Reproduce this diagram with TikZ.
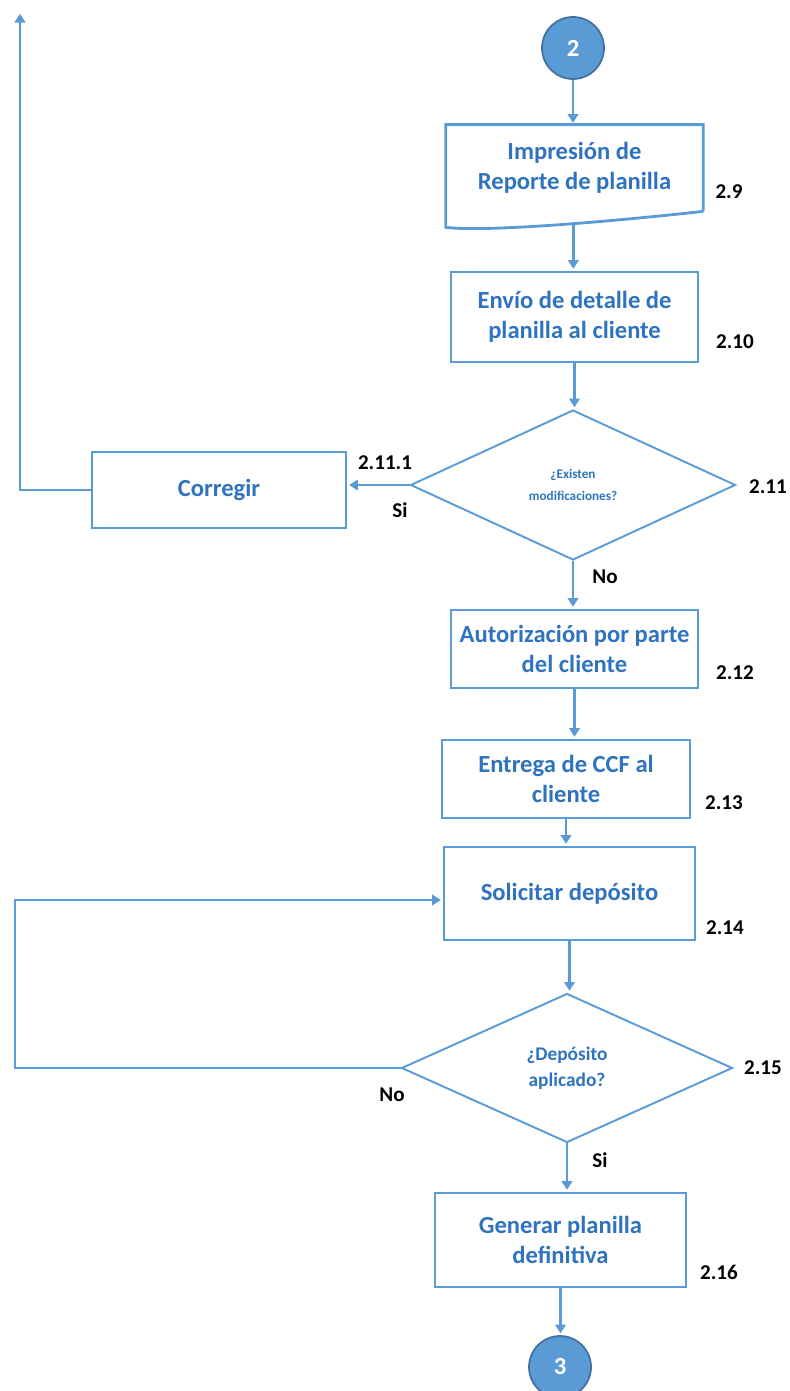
\documentclass[tikz,border=0pt]{standalone}
\usepackage{fontspec}
\setmainfont{Carlito}
\usetikzlibrary{positioning,arrows.meta,shapes.geometric}
\definecolor{cline}{HTML}{5B9BD5}
\definecolor{cedge}{HTML}{41719C}
\definecolor{ctext}{HTML}{2F73C0}

\begin{document}
\begin{tikzpicture}[x=0.02cm,y=-0.02cm,font=\bfseries\fontsize{14}{17}\selectfont,>={Triangle[length=5pt,width=6pt]},
  proc/.style={draw=cline,line width=1.6pt,text=ctext,align=center,inner sep=2pt},
  dec/.style={diamond,draw=cline,line width=1.1pt,text=ctext,align=center,inner sep=0pt},
  term/.style={circle,fill=cline,draw=cedge,line width=1pt,text=white,minimum size=1.24cm,inner sep=0pt},
  conn/.style={->,draw=cline,line width=1.6pt,shorten >=1pt},
  num/.style={text=black,font=\bfseries\fontsize{12}{14}\selectfont,inner sep=0pt}]
\useasboundingbox (0,0) rectangle (789,1391);
% connectors' start/end
\node[term] (c2) at (573,48) {2};
\node[text=ctext,align=center,minimum width=5.14cm,minimum height=1.72cm,inner sep=0pt] (b29) at (574.5,168)
  {Impresión de\\Reporte de planilla};
\draw[cline,line width=1.6pt] (b29.south east) -- (b29.north east) -- (b29.north west)
  -- ([yshift=-0.32cm]b29.south west) .. controls +(40,5) and +(-90,10) .. (b29.south east)
  coordinate[pos=.56] (b29w);
\node[proc,minimum width=4.94cm,minimum height=1.8cm] (b210) at (574.5,317) {Envío de detalle de\\planilla al cliente};
\node[dec,minimum width=6.5cm,minimum height=3cm,font=\bfseries\fontsize{7.5}{13}\selectfont] (d211) at (573,485)
  {¿Existen\\modificaciones?};
\node[proc,minimum width=5.08cm,minimum height=1.52cm] (corr) at (219,490) {Corregir};
\node[proc,minimum width=4.94cm,minimum height=1.56cm] (b212) at (574.5,649) {Autorización por parte\\del cliente};
\node[proc,minimum width=4.96cm,minimum height=1.56cm] (b213) at (566,779) {Entrega de CCF al\\cliente};
\node[proc,minimum width=5.02cm,minimum height=1.86cm] (b214) at (569.5,893.5) {Solicitar depósito};
\node[dec,minimum width=6.62cm,minimum height=2.98cm,font=\bfseries\fontsize{11}{15}\selectfont] (d215) at (567,1068)
  {¿Depósito\\aplicado?};
\node[proc,minimum width=5.02cm,minimum height=1.88cm] (b216) at (560.5,1240) {Generar planilla\\definitiva};
\node[term] (c3) at (560,1367) {3};
\coordinate (up) at (20,12);
\coordinate (back) at (15,900);
% arrows
\draw[conn] (c2) -- (c2.south |- b29.north);
\draw[conn] (b29w) -- (b29w |- b210.north);
\draw[conn] (b210) -- (b210.south |- d211.north);
\draw[conn] (d211) -- (d211.south |- b212.north);
\draw[conn] (b212) -- (b212.south |- b213.north);
\draw[conn] (b213) -- (b213.south |- b214.north);
\draw[conn] (b214) -- (b214.south |- d215.north);
\draw[conn] (d215) -- (d215.south |- b216.north);
\draw[conn] (b216) -- (b216.south |- c3.north);
\draw[conn] (d211.west) -- (d211.west -| corr.east);
\draw[conn] (corr.west) -| (up);
\draw[conn] (d215.west) -| (back) -- (back -| b214.west);
% numbers
\node[num] at (729,192) {2.9};
\node[num] at (735,342) {2.10};
\node[num] at (768,487) {2.11};
\node[num] at (385,463) {2.11.1};
\node[num] at (400,510) {Si};
\node[num] at (605,577) {No};
\node[num] at (735,673) {2.12};
\node[num] at (724,803) {2.13};
\node[num] at (725,928) {2.14};
\node[num] at (763,1068) {2.15};
\node[num] at (392,1095) {No};
\node[num] at (600,1160) {Si};
\node[num] at (719,1272) {2.16};
\end{tikzpicture}
\end{document}
